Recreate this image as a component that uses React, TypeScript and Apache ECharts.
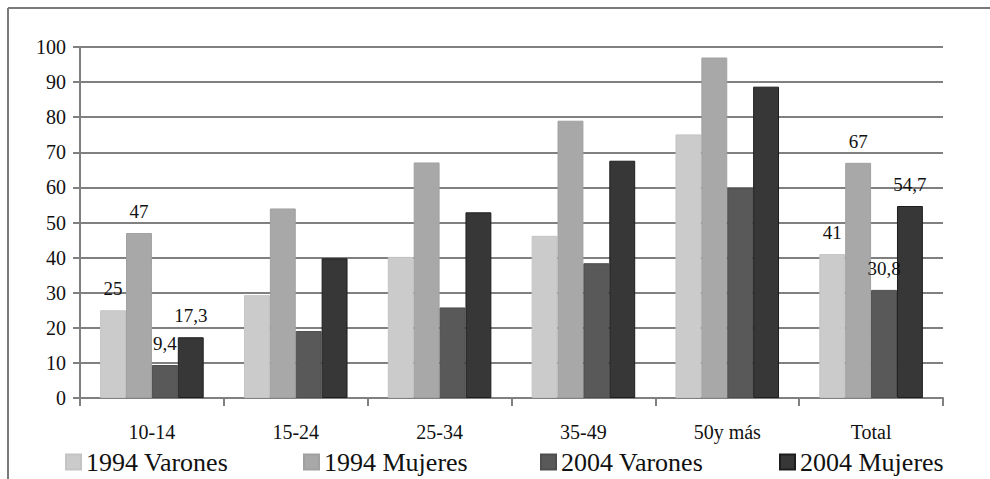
import React, { useEffect, useRef } from "react";
import * as echarts from "echarts";

const categories = ["10-14", "15-24", "25-34", "35-49", "50y más", "Total"];
const seriesNames = ["1994 Varones", "1994 Mujeres", "2004 Varones", "2004 Mujeres"];
const varones1994 = [25, 29.3, 40.2, 46.2, 75.1, 41];
const mujeres1994 = [47, 54, 67.1, 79, 97, 67];
const varones2004 = [9.4, 19.1, 25.8, 38.4, 59.8, 30.8];
const mujeres2004 = [17.3, 39.8, 52.9, 67.6, 88.7, 54.7];
const labeledCategories = ["10-14", "Total"];
const yTicks = [0, 10, 20, 30, 40, 50, 60, 70, 80, 90, 100];

const colors = ["#cbcbcb", "#a8a8a8", "#595959", "#373737"];
const borders = ["#c4c4c4", "#a0a0a0", "#4e4e4e", "#1e1e1e"];
const legendLeft = [65, 303, 540, 779];
const FONT = "Liberation Serif";

export default function App() {
  const ref = useRef<HTMLDivElement>(null);
  useEffect(() => {
    if (!ref.current) return;
    const chart = echarts.init(ref.current, undefined, { renderer: "svg" });
    const allData = [varones1994, mujeres1994, varones2004, mujeres2004];
    const fmt = (v: number) => String(v).replace(".", ",");
    chart.setOption({
      animation: false,
      backgroundColor: "#ffffff",
      textStyle: { fontFamily: FONT },
      grid: { left: 80, right: 47, top: 47, bottom: 81, containLabel: false },
      xAxis: {
        type: "category",
        data: categories,
        boundaryGap: true,
        axisLine: { show: true, lineStyle: { color: "#808080", width: 2 } },
        axisTick: { show: true, length: 8, lineStyle: { color: "#808080", width: 2 } },
        axisLabel: { color: "#111", fontSize: 20, fontFamily: FONT, margin: 24 },
        splitLine: { show: false },
      },
      yAxis: {
        type: "value",
        min: yTicks[0],
        max: yTicks[yTicks.length - 1],
        interval: 10,
        axisLine: { show: true, lineStyle: { color: "#808080", width: 2 } },
        axisTick: { show: true, length: 7, lineStyle: { color: "#808080", width: 2 } },
        axisLabel: { color: "#111", fontSize: 20, fontFamily: FONT, margin: 14 },
        splitLine: { show: true, lineStyle: { color: "#808080", width: 2 } },
      },
      legend: seriesNames.map((n, i) => ({
        data: [n],
        left: legendLeft[i],
        top: 449,
        padding: 0,
        icon: "rect",
        itemWidth: 15,
        itemHeight: 15,
        itemGap: 0,
        textStyle: { fontSize: 26, color: "#111", fontFamily: FONT },
      })),
      graphic: [
        { type: "line", shape: { x1: 8, y1: 8, x2: 990, y2: 8 }, style: { stroke: "#7a7a7a", lineWidth: 2 } },
        { type: "line", shape: { x1: 8, y1: 8, x2: 8, y2: 479 }, style: { stroke: "#7a7a7a", lineWidth: 2 } },
      ],
      series: seriesNames.map((n, i) => ({
        name: n,
        type: "bar",
        barGap: "0%",
        barCategoryGap: "28%",
        itemStyle: { color: colors[i], borderColor: borders[i], borderWidth: 1 },
        data: allData[i].map((v, j) => ({
          value: v,
          label: {
            show: labeledCategories.includes(categories[j]),
            position: "top",
            distance: 12,
            fontSize: 19,
            color: "#111",
            fontFamily: FONT,
            formatter: (p: any) => fmt(p.value),
          },
        })),
      })),
    });
    return () => chart.dispose();
  }, []);
  return (
    <div
      ref={ref}
      style={{ position: "fixed", left: 0, top: 0, width: 990, height: 479 }}
    />
  );
}
